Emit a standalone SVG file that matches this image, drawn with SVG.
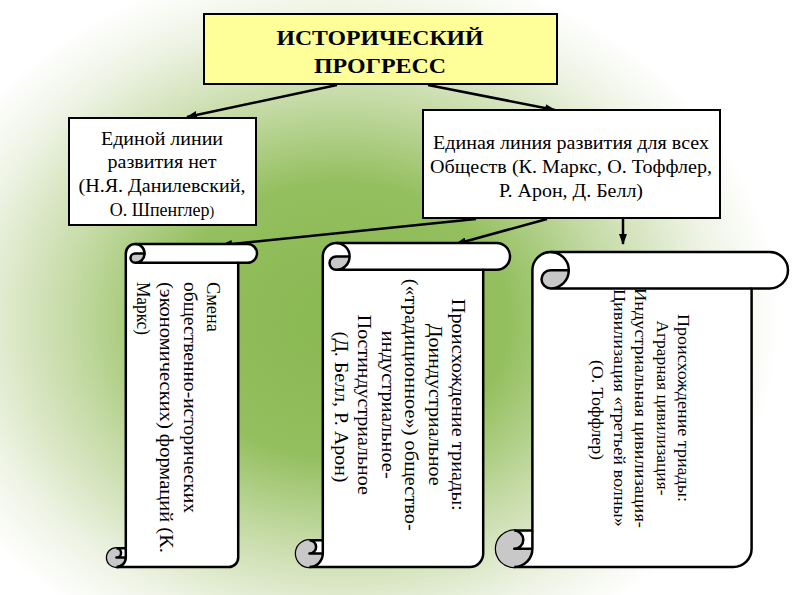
<svg xmlns="http://www.w3.org/2000/svg" width="794" height="595" viewBox="0 0 794 595">
<defs>
<radialGradient id="bg" gradientUnits="userSpaceOnUse" cx="340" cy="320" r="440" gradientTransform="translate(340 320) scale(1 0.82) translate(-340 -320)">
<stop offset="0" stop-color="#8ab852"/>
<stop offset="0.38" stop-color="#93bf5e"/>
<stop offset="0.62" stop-color="#c6dba7"/>
<stop offset="0.85" stop-color="#eef3e4"/>
<stop offset="1" stop-color="#ffffff"/>
</radialGradient>
<marker id="ah" markerUnits="userSpaceOnUse" markerWidth="11" markerHeight="8" refX="10" refY="4" orient="auto">
<path d="M0,0 L11,4 L0,8 Z" fill="#000"/>
</marker>
<style>
.box{fill:#fff;stroke:#000;stroke-width:2}
.t{font-family:"Liberation Serif","Times New Roman",serif;font-size:18px;fill:#000}
.tb{font-family:"Liberation Serif","Times New Roman",serif;font-size:20px;font-weight:bold;fill:#000}
.scroll{fill:#fff;stroke:#000;stroke-width:2.5;stroke-linejoin:round}
.dark{fill:#c8c8c8;stroke:none}
.ln{fill:none;stroke:#000;stroke-width:2.5;stroke-linejoin:round}
.con{fill:none;stroke:#000;stroke-width:2.5;marker-end:url(#ah)}
</style>
</defs>
<rect x="0" y="0" width="794" height="595" fill="url(#bg)"/>

<g id="connectors">
<line class="con" x1="337" y1="85" x2="187" y2="117"/>
<line class="con" x1="428" y1="85" x2="555" y2="110"/>
<line class="con" x1="476" y1="219" x2="222" y2="245"/>
<line class="con" x1="547" y1="219" x2="456" y2="244"/>
<line class="con" x1="623" y1="219" x2="623" y2="244"/>
</g>

<g id="node-title">
<rect x="204" y="14" width="353" height="70" fill="#ffff99" stroke="#000" stroke-width="2"/>
<text class="tb" x="380" y="45" text-anchor="middle" textLength="207" lengthAdjust="spacingAndGlyphs">ИСТОРИЧЕСКИЙ</text>
<text class="tb" x="380" y="73" text-anchor="middle" textLength="132" lengthAdjust="spacingAndGlyphs">ПРОГРЕСС</text>
</g>

<g id="node-left">
<rect class="box" x="69" y="118" width="187" height="107"/>
<text class="t" x="162" y="145" text-anchor="middle" textLength="122" lengthAdjust="spacingAndGlyphs">Единой линии</text>
<text class="t" x="162" y="168" text-anchor="middle" textLength="109" lengthAdjust="spacingAndGlyphs">развития нет</text>
<text class="t" x="162" y="192" text-anchor="middle" textLength="167" lengthAdjust="spacingAndGlyphs">(Н.Я. Данилевский,</text>
<text class="t" x="162" y="216" text-anchor="middle">О. Шпенглер<tspan font-size="14">)</tspan></text>
</g>

<g id="node-right">
<rect class="box" x="423" y="110" width="297" height="108"/>
<text class="t" x="571" y="149" text-anchor="middle" textLength="276" lengthAdjust="spacingAndGlyphs">Единая линия развития для всех</text>
<text class="t" x="571" y="173" text-anchor="middle" textLength="282" lengthAdjust="spacingAndGlyphs">Обществ (К. Маркс, О. Тоффлер,</text>
<text class="t" x="571" y="197" text-anchor="middle" textLength="144" lengthAdjust="spacingAndGlyphs">Р. Арон, Д. Белл)</text>
</g>

<g id="node-scroll1">
<path class="scroll" d="M125.8,548.2 L125.8,253.4 A9.4,9.4 0 0 1 135.2,244 L247.6,244 A9.4,9.4 0 0 1 247.6,262.8 L238.2,262.8 L238.2,557.6 A9.4,9.4 0 0 1 228.8,567 L116.4,567 A9.4,9.4 0 0 1 116.4,548.2 Z"/>
<path class="dark" d="M144.6,253.4 A9.4,9.4 0 0 1 135.2,262.8 A4.7,4.7 0 0 1 135.2,253.4 Z"/>
<path class="dark" d="M125.8,557.6 A9.4,9.4 0 1 1 116.4,548.2 A4.7,4.7 0 0 1 116.4,557.6 Z"/>
<path class="ln" d="M238.2,262.8 L135.2,262.8 M135.2,244 A9.4,9.4 0 0 1 135.2,262.8 A4.7,4.7 0 0 1 135.2,253.4 L144.6,253.4 M116.4,548.2 A4.7,4.7 0 0 1 116.4,557.6 L125.8,557.6 M116.4,567 A9.4,9.4 0 0 0 125.8,557.6 L125.8,548.2"/>
<text class="t" transform="translate(207 282) rotate(90)">
<tspan x="0" y="0" textLength="50" lengthAdjust="spacingAndGlyphs">Смена</tspan>
<tspan x="0" y="23.5" textLength="231" lengthAdjust="spacingAndGlyphs">общественно-исторических</tspan>
<tspan x="0" y="47" textLength="271" lengthAdjust="spacingAndGlyphs">(экономических) формаций (К.</tspan>
<tspan x="0" y="70.5" textLength="53" lengthAdjust="spacingAndGlyphs">Маркс)</tspan>
</text>
</g>

<g id="node-scroll2">
<path class="scroll" d="M322.8,540.2 L322.8,256.4 A13.4,13.4 0 0 1 336.2,243 L496.6,243 A13.4,13.4 0 0 1 496.6,269.8 L483.2,269.8 L483.2,553.6 A13.4,13.4 0 0 1 469.8,567 L309.4,567 A13.4,13.4 0 0 1 309.4,540.2 Z"/>
<path class="dark" d="M349.6,256.4 A13.4,13.4 0 0 1 336.2,269.8 A6.7,6.7 0 0 1 336.2,256.4 Z"/>
<path class="dark" d="M322.8,553.6 A13.4,13.4 0 1 1 309.4,540.2 A6.7,6.7 0 0 1 309.4,553.6 Z"/>
<path class="ln" d="M483.2,269.8 L336.2,269.8 M336.2,243 A13.4,13.4 0 0 1 336.2,269.8 A6.7,6.7 0 0 1 336.2,256.4 L349.6,256.4 M309.4,540.2 A6.7,6.7 0 0 1 309.4,553.6 L322.8,553.6 M309.4,567 A13.4,13.4 0 0 0 322.8,553.6 L322.8,540.2"/>
<text class="t" transform="translate(452 407) rotate(90)" text-anchor="middle">
<tspan x="0" y="0" textLength="212" lengthAdjust="spacingAndGlyphs">Происхождение триады:</tspan>
<tspan x="0" y="23.4" textLength="162" lengthAdjust="spacingAndGlyphs">Доиндустриальное</tspan>
<tspan x="0" y="46.8" textLength="252" lengthAdjust="spacingAndGlyphs">(«традиционное») общество-</tspan>
<tspan x="0" y="70.2" textLength="148" lengthAdjust="spacingAndGlyphs">индустриальное-</tspan>
<tspan x="0" y="93.6" textLength="180" lengthAdjust="spacingAndGlyphs">Постиндустриальное</tspan>
<tspan x="0" y="117" textLength="151" lengthAdjust="spacingAndGlyphs">(Д. Белл, Р. Арон)</tspan>
</text>
</g>

<g id="node-scroll3">
<path class="scroll" d="M532.4,530.6 L532.4,270.2 A18.2,18.2 0 0 1 550.6,252 L769.8,252 A18.2,18.2 0 0 1 769.8,288.4 L751.6,288.4 L751.6,548.8 A18.2,18.2 0 0 1 733.4,567 L514.2,567 A18.2,18.2 0 0 1 514.2,530.6 Z"/>
<path class="dark" d="M568.8,270.2 A18.2,18.2 0 0 1 550.6,288.4 A9.1,9.1 0 0 1 550.6,270.2 Z"/>
<path class="dark" d="M532.4,548.8 A18.2,18.2 0 1 1 514.2,530.6 A9.1,9.1 0 0 1 514.2,548.8 Z"/>
<path class="ln" d="M751.6,288.4 L550.6,288.4 M550.6,252 A18.2,18.2 0 0 1 550.6,288.4 A9.1,9.1 0 0 1 550.6,270.2 L568.8,270.2 M514.2,530.6 A9.1,9.1 0 0 1 514.2,548.8 L532.4,548.8 M514.2,567 A18.2,18.2 0 0 0 532.4,548.8 L532.4,530.6"/>
<text class="t" style="font-size:16.5px" transform="translate(678 410) rotate(90)" text-anchor="middle">
<tspan x="0" y="0" textLength="188" lengthAdjust="spacingAndGlyphs">Происхождение триады:</tspan>
<tspan x="0" y="21.5" textLength="175" lengthAdjust="spacingAndGlyphs">Аграрная цивилизация-</tspan>
<tspan x="0" y="43" textLength="240" lengthAdjust="spacingAndGlyphs">Индустриальная цивилизация-</tspan>
<tspan x="0" y="64.5" textLength="238" lengthAdjust="spacingAndGlyphs">Цивилизация «третьей волны»</tspan>
<tspan x="0" y="86" textLength="100" lengthAdjust="spacingAndGlyphs">(О. Тоффлер)</tspan>
</text>
</g>
</svg>
